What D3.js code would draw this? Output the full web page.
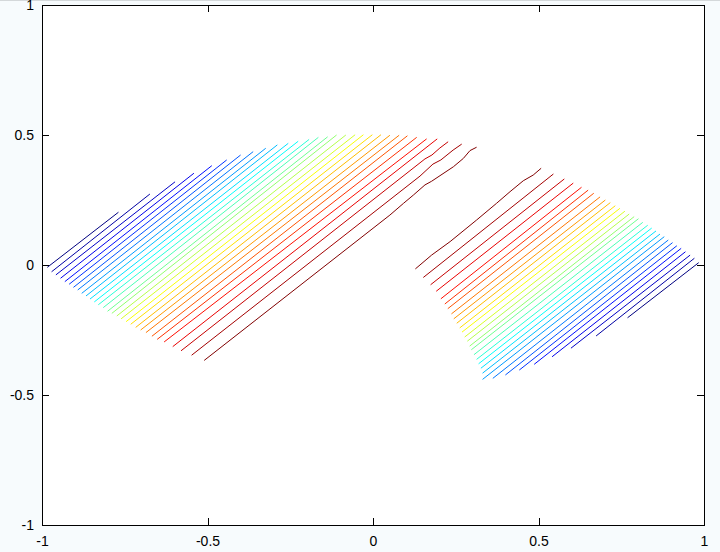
<!DOCTYPE html>
<html>
<head>
<meta charset="utf-8">
<script src="https://cdn.jsdelivr.net/npm/d3@7"></script>
<style>
  html, body { margin: 0; padding: 0; background: #f7fbfd; }
  svg { display: block; }
</style>
</head>
<body>
<div id="chart"></div>
<script>
// tick values on both axes
var xTicks = [-1, -0.5, 0, 0.5, 1];
var yTicks = [-1, -0.5, 0, 0.5, 1];

// contour lines of the left patch, level 1 (dark blue) .. level 30 (dark red)
var leftLines = [
    [[-0.984, -0.009], [-0.769, 0.203]],
    [[-0.971, -0.026], [-0.674, 0.273]],
    [[-0.958, -0.038], [-0.598, 0.320]],
    [[-0.944, -0.051], [-0.541, 0.353]],
    [[-0.931, -0.064], [-0.487, 0.382]],
    [[-0.918, -0.074], [-0.442, 0.404]],
    [[-0.905, -0.086], [-0.400, 0.423]],
    [[-0.892, -0.096], [-0.362, 0.436]],
    [[-0.880, -0.109], [-0.324, 0.449]],
    [[-0.867, -0.119], [-0.289, 0.462]],
    [[-0.855, -0.131], [-0.256, 0.468]],
    [[-0.842, -0.142], [-0.226, 0.476]],
    [[-0.830, -0.153], [-0.193, 0.483]],
    [[-0.815, -0.164], [-0.165, 0.491]],
    [[-0.802, -0.178], [-0.137, 0.493]],
    [[-0.789, -0.186], [-0.110, 0.500]],
    [[-0.774, -0.196], [-0.082, 0.500]],
    [[-0.761, -0.207], [-0.054, 0.501]],
    [[-0.746, -0.218], [-0.029, 0.501]],
    [[-0.732, -0.228], [-0.002, 0.501]],
    [[-0.717, -0.240], [0.024, 0.501]],
    [[-0.702, -0.250], [0.051, 0.499]],
    [[-0.686, -0.260], [0.079, 0.499]],
    [[-0.668, -0.274], [0.104, 0.497]],
    [[-0.652, -0.286], [0.132, 0.491]],
    [[-0.631, -0.296], [0.162, 0.485]],
    [[-0.605, -0.314], [0.194, 0.485]],
    [[-0.580, -0.330], [0.157, 0.408], [0.178, 0.423], [0.202, 0.450], [0.227, 0.474]],
    [[-0.548, -0.347], [0.142, 0.342], [0.181, 0.388], [0.205, 0.404], [0.242, 0.442], [0.268, 0.465]],
    [[-0.510, -0.367], [0.051, 0.192], [0.092, 0.237], [0.122, 0.269], [0.157, 0.308], [0.177, 0.322],
     [0.243, 0.378], [0.273, 0.410], [0.293, 0.440], [0.313, 0.453]]
];

// contour lines of the right patch, same levels
var rightLines = [
    [[0.769, -0.203], [0.984, 0.009]],
    [[0.674, -0.273], [0.971, 0.026]],
    [[0.598, -0.320], [0.958, 0.038]],
    [[0.541, -0.353], [0.944, 0.051]],
    [[0.487, -0.382], [0.931, 0.064]],
    [[0.442, -0.404], [0.918, 0.074]],
    [[0.400, -0.423], [0.905, 0.086]],
    [[0.362, -0.436], [0.892, 0.096]],
    [[0.331, -0.440], [0.880, 0.109]],
    [[0.331, -0.416], [0.867, 0.119]],
    [[0.326, -0.397], [0.855, 0.131]],
    [[0.319, -0.380], [0.842, 0.142]],
    [[0.313, -0.363], [0.830, 0.153]],
    [[0.305, -0.345], [0.815, 0.164]],
    [[0.297, -0.326], [0.802, 0.178]],
    [[0.292, -0.312], [0.789, 0.186]],
    [[0.285, -0.293], [0.774, 0.196]],
    [[0.277, -0.277], [0.761, 0.207]],
    [[0.269, -0.258], [0.746, 0.218]],
    [[0.262, -0.242], [0.732, 0.228]],
    [[0.253, -0.224], [0.717, 0.240]],
    [[0.244, -0.207], [0.702, 0.250]],
    [[0.237, -0.188], [0.686, 0.262]],
    [[0.226, -0.168], [0.667, 0.276]],
    [[0.217, -0.150], [0.650, 0.288]],
    [[0.205, -0.130], [0.630, 0.299]],
    [[0.191, -0.101], [0.605, 0.315]],
    [[0.174, -0.076], [0.578, 0.331]],
    [[0.152, -0.048], [0.545, 0.350]],
    [[0.128, -0.015], [0.177, 0.038], [0.233, 0.090], [0.313, 0.173], [0.373, 0.237], [0.414, 0.282],
     [0.454, 0.324], [0.484, 0.346], [0.508, 0.372]]
];

var width = 720,
    height = 552,
    margin = {top: 5, right: 16, bottom: 27, left: 42},
    plotW = width - margin.left - margin.right,
    plotH = height - margin.top - margin.bottom,
    tickLen = 7;

var x = d3.scaleLinear().domain([-1, 1]).range([0, plotW]);
var y = d3.scaleLinear().domain([-1, 1]).range([plotH, 0]);

// matlab style jet colormap
function jet(t) {
    function c(v) { return Math.max(0, Math.min(1, v)); }
    var r = c(1.5 - Math.abs(4 * t - 3)),
        g = c(1.5 - Math.abs(4 * t - 2)),
        b = c(1.5 - Math.abs(4 * t - 1));
    return d3.rgb(r * 255, g * 255, b * 255).toString();
}
var nLevels = leftLines.length;
var color = function (i) { return jet(i / (nLevels - 1)); };

// plain hyphen for negatives, like the original
var fmt = function (d) { return String(d); };

var svg = d3.select("#chart").append("svg")
    .attr("width", width)
    .attr("height", height);

svg.append("rect")
    .attr("width", width).attr("height", 1)
    .attr("fill", "#d4d8da");

var g = svg.append("g")
    .attr("transform", "translate(" + margin.left + "," + margin.top + ")");

g.append("rect")
    .attr("width", plotW)
    .attr("height", plotH)
    .attr("fill", "#fff");

var line = d3.line()
    .x(function (d) { return x(d[0]); })
    .y(function (d) { return y(d[1]); });

g.selectAll("path.left")
    .data(leftLines)
    .enter().append("path")
    .attr("class", "left")
    .attr("d", line)
    .attr("fill", "none")
    .attr("stroke-width", 1)
    .attr("stroke", function (d, i) { return color(i); });

g.selectAll("path.right")
    .data(rightLines)
    .enter().append("path")
    .attr("class", "right")
    .attr("d", line)
    .attr("fill", "none")
    .attr("stroke-width", 1)
    .attr("stroke", function (d, i) { return color(i); });

// axes, ticks pointing inward on all four sides
var xAxisB = d3.axisBottom(x).tickValues(xTicks).tickSizeInner(-tickLen).tickSizeOuter(0).tickFormat(fmt).tickPadding(11);
var xAxisT = d3.axisTop(x).tickValues(xTicks).tickSizeInner(-tickLen).tickSizeOuter(0).tickFormat("");
var yAxisL = d3.axisLeft(y).tickValues(yTicks).tickSizeInner(-tickLen).tickSizeOuter(0).tickFormat(fmt).tickPadding(8);
var yAxisR = d3.axisRight(y).tickValues(yTicks).tickSizeInner(-tickLen).tickSizeOuter(0).tickFormat("");

g.append("g").attr("transform", "translate(0," + plotH + ")").call(xAxisB);
g.append("g").call(xAxisT);
g.append("g").call(yAxisL);
g.append("g").attr("transform", "translate(" + plotW + ",0)").call(yAxisR);

g.selectAll(".domain").remove();
g.selectAll(".tick line").attr("stroke", "#000").attr("shape-rendering", "crispEdges");
g.selectAll(".tick text")
    .style("font-family", "'Liberation Sans', Arial, sans-serif")
    .style("font-size", "14px")
    .attr("fill", "#000");

g.append("rect")
    .attr("width", plotW)
    .attr("height", plotH)
    .attr("fill", "none")
    .attr("stroke", "#000")
    .attr("stroke-width", 1)
    .attr("shape-rendering", "crispEdges");
</script>
</body>
</html>
